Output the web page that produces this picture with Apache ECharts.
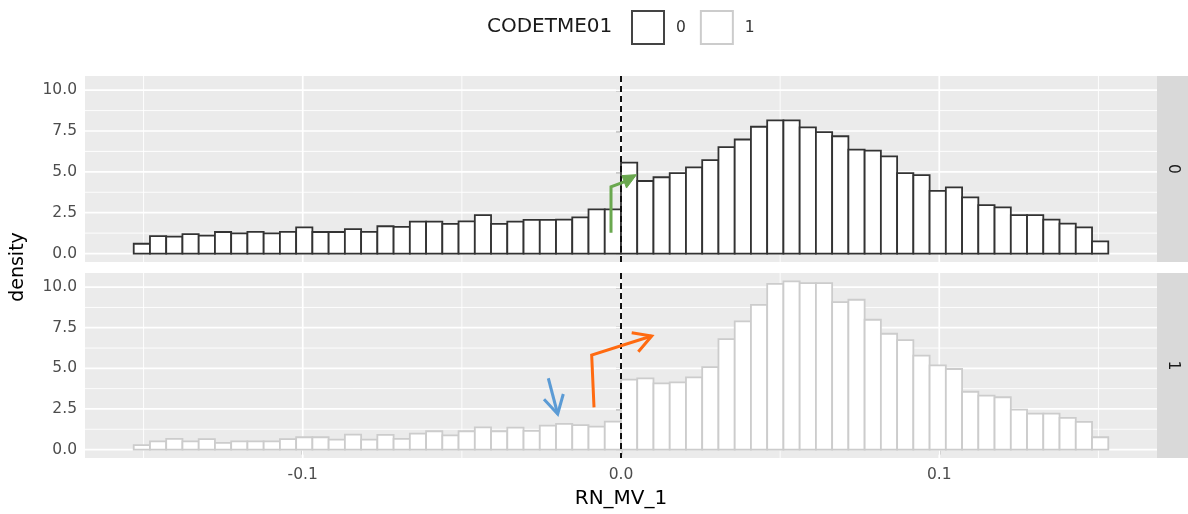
<!DOCTYPE html>
<html><head><meta charset="utf-8">
<script src="https://cdn.jsdelivr.net/npm/echarts@6/dist/echarts.min.js"></script>
<style>html,body{margin:0;padding:0;background:#fff}#c{width:1188px;height:514px}</style>
</head><body><div id="c"></div>
<script>
// ---- data ----
const groups = ['0', '1'];
const binStart = -0.1531;
const binWidth = 0.1531 / 30;
const density0 = [0.60,1.07,1.03,1.19,1.10,1.32,1.23,1.33,1.23,1.33,
                  1.60,1.32,1.32,1.50,1.33,1.67,1.63,1.95,1.95,1.82,
                  1.97,2.35,1.81,1.95,2.06,2.06,2.08,2.22,2.70,2.70,
                  5.56,4.44,4.67,4.92,5.27,5.72,6.52,6.98,7.76,8.15,
                  8.15,7.72,7.43,7.18,6.36,6.30,5.95,4.92,4.80,3.83,
                  4.05,3.44,2.96,2.82,2.35,2.35,2.08,1.83,1.60,0.74];
const density1 = [0.27,0.51,0.66,0.51,0.64,0.41,0.51,0.51,0.51,0.64,
                  0.76,0.76,0.61,0.92,0.61,0.90,0.66,0.98,1.13,0.88,
                  1.13,1.37,1.13,1.35,1.15,1.47,1.58,1.50,1.41,1.72,
                  4.30,4.38,4.08,4.14,4.45,5.08,6.80,7.89,8.91,10.20,
                  10.35,10.24,10.24,9.08,9.22,7.99,7.13,6.74,5.78,5.18,
                  4.96,3.56,3.32,3.22,2.46,2.21,2.21,1.95,1.70,0.76];
const xTicks = [-0.1, 0, 0.1];
const xMinor = [-0.15, -0.05, 0.05, 0.15];
const yTicks = [0, 2.5, 5, 7.5, 10];
const yMinor = [1.25, 3.75, 6.25, 8.75];
const cutoff = 0;
// hand-drawn annotation arrows (data coordinates)
const greenArrow = {panel: 0, line: [[-0.00314,1.27],[-0.00314,4.09],[0.0012,4.40]], head: [[0.00487,4.83],[0.00031,4.77],[0.00173,4.01]], fill: true};
const orangeArrow = {panel: 1, line: [[-0.00848,2.60],[-0.00921,5.82],[0.00965,6.99]], head: [[0.00336,7.19],[0.00965,6.99],[0.00544,6.02]], fill: false};
const blueArrow = {panel: 1, line: [[-0.02284,4.39],[-0.01989,2.19]], head: [[-0.02419,3.10],[-0.01989,2.19],[-0.01813,3.42]], fill: false};
const arrowColors = ['#6AA84F', '#FF6A10', '#5B9BD5'];

// ---- layout / style ----
const FONT = 'DejaVu Sans';
const X_MIN = -0.16841, X_MAX = 0.16841;
const Y_MIN = -0.5175, Y_MAX = 10.8675;
const barStroke = ['#333333', '#CCCCCC'];

const chart = echarts.init(document.getElementById('c'), null, {renderer: 'canvas'});

function binned(vals) {
  return vals.map((v, i) => [binStart + i * binWidth, binStart + (i + 1) * binWidth, v]);
}
const gridData = [];
xMinor.forEach(v => gridData.push([v, 0, 0]));
yMinor.forEach(v => gridData.push([v, 1, 0]));
xTicks.forEach(v => gridData.push([v, 0, 1]));
yTicks.forEach(v => gridData.push([v, 1, 1]));

function gridSeries(idx) {
  return {
    type: 'custom', xAxisIndex: idx, yAxisIndex: idx, z: 1, silent: true,
    data: gridData,
    encode: {x: 0},
    renderItem(params, api) {
      const cs = params.coordSys;
      const v = api.value(0), dir = api.value(1), major = api.value(2);
      let shape;
      if (dir === 0) {
        const px = api.coord([v, 0])[0];
        shape = {x1: px, y1: cs.y, x2: px, y2: cs.y + cs.height};
      } else {
        const py = api.coord([0, v])[1];
        shape = {x1: cs.x, y1: py, x2: cs.x + cs.width, y2: py};
      }
      return {type: 'line', shape, style: {stroke: '#FFFFFF', lineWidth: major ? 1.7 : 0.9}};
    }
  };
}
function barSeries(idx, vals) {
  return {
    type: 'custom', name: groups[idx], xAxisIndex: idx, yAxisIndex: idx, z: 3,
    data: binned(vals),
    encode: {x: [0, 1], y: 2},
    itemStyle: {color: '#FFFFFF', borderColor: barStroke[idx]},
    renderItem(params, api) {
      const p0 = api.coord([api.value(0), api.value(2)]);
      const p1 = api.coord([api.value(1), 0]);
      return {type: 'rect', shape: {x: p0[0], y: p0[1], width: p1[0] - p0[0], height: p1[1] - p0[1]},
              style: {fill: '#FFFFFF', stroke: barStroke[idx], lineWidth: 1.8}};
    }
  };
}
function cutoffSeries(idx) {
  return {
    type: 'custom', xAxisIndex: idx, yAxisIndex: idx, z: 4, silent: true,
    data: [[cutoff, 0]],
    renderItem(params, api) {
      const cs = params.coordSys;
      const px = api.coord([api.value(0), 0])[0];
      return {type: 'line', shape: {x1: px, y1: cs.y, x2: px, y2: cs.y + cs.height},
              style: {stroke: '#111111', lineWidth: 2, lineDash: [6, 4]}};
    }
  };
}
function arrowSeries(arrow, color) {
  return {
    type: 'custom', xAxisIndex: arrow.panel, yAxisIndex: arrow.panel, z: 6, silent: true,
    data: [[arrow.line[0][0], arrow.line[0][1]]],
    renderItem(params, api) {
      const pts = arrow.line.map(p => api.coord(p));
      const hd = arrow.head.map(p => api.coord(p));
      const children = [{type: 'polyline', shape: {points: pts},
        style: {stroke: color, lineWidth: 3, fill: null, lineJoin: 'miter'}}];
      if (arrow.fill) {
        children.push({type: 'polygon', shape: {points: hd}, style: {fill: color, stroke: color, lineWidth: 1}});
      } else {
        children.push({type: 'polyline', shape: {points: hd}, style: {stroke: color, lineWidth: 3, fill: null}});
      }
      return {type: 'group', children};
    }
  };
}

const axisLabelStyle = {fontFamily: FONT, fontSize: 15.5, color: '#4D4D4D'};
function xAxis(idx) {
  const bottom = idx === 1;
  return {
    type: 'value', gridIndex: idx, min: X_MIN, max: X_MAX,
    axisLine: {show: false},
    axisTick: {show: bottom, customValues: xTicks, length: 5, lineStyle: {color: '#333333', width: 1.3}},
    axisLabel: Object.assign({show: bottom, customValues: xTicks, margin: 9,
      formatter: v => Number(v).toFixed(1)}, axisLabelStyle),
    splitLine: {show: false},
    name: bottom ? 'RN_MV_1' : '', nameLocation: 'middle', nameGap: 31,
    nameTextStyle: {fontFamily: FONT, fontSize: 20, color: '#000000'}
  };
}
function yAxis(idx) {
  return {
    type: 'value', gridIndex: idx, min: Y_MIN, max: Y_MAX,
    axisLine: {show: false},
    axisTick: {show: true, customValues: yTicks, length: 5, lineStyle: {color: '#333333', width: 1.3}},
    axisLabel: Object.assign({customValues: yTicks, margin: 8,
      formatter: v => Number(v).toFixed(1)}, axisLabelStyle),
    splitLine: {show: false}
  };
}

const panels = [{top: 76, height: 186}, {top: 273, height: 185}];
const stripGraphics = [];
panels.forEach((p, i) => {
  stripGraphics.push({type: 'rect', left: 1157, top: p.top, shape: {width: 31, height: p.height},
                      style: {fill: '#D9D9D9'}, silent: true});
  stripGraphics.push({type: 'text', x: 1173, y: p.top + p.height / 2, rotation: -Math.PI / 2,
                      style: {text: groups[i], x: 0, y: 0, textAlign: 'center', textVerticalAlign: 'middle',
                              font: '15.5px "DejaVu Sans"', fill: '#1A1A1A'}, silent: true});
});

chart.setOption({
  animation: false,
  backgroundColor: '#FFFFFF',
  grid: panels.map(p => ({left: 85, top: p.top, width: 1072, height: p.height, show: true,
                          backgroundColor: '#EBEBEB', borderWidth: 0})),
  xAxis: [xAxis(0), xAxis(1)],
  yAxis: [yAxis(0), yAxis(1)],
  legend: {
    left: 631, top: 10, padding: 0, itemWidth: 32, itemHeight: 33, itemGap: 14, selectedMode: false,
    textStyle: {fontFamily: FONT, fontSize: 15.5, color: '#333333', padding: [0, 0, 0, 7]},
    data: [
      {name: groups[0], icon: 'rect', itemStyle: {color: '#FFFFFF', borderColor: '#444444', borderWidth: 2}},
      {name: groups[1], icon: 'rect', itemStyle: {color: '#FFFFFF', borderColor: '#CCCCCC', borderWidth: 2}}
    ]
  },
  graphic: stripGraphics.concat([
    {type: 'text', x: 487, y: 27, style: {text: 'CODETME01', textAlign: 'left', textVerticalAlign: 'middle',
      font: '20px "DejaVu Sans"', fill: '#1A1A1A'}, silent: true},
    {type: 'text', x: 18, y: 267, rotation: Math.PI / 2, style: {text: 'density', x: 0, y: 0,
      textAlign: 'center', textVerticalAlign: 'middle', font: '19px "DejaVu Sans"', fill: '#000000'}, silent: true}
  ]),
  series: [
    gridSeries(0), gridSeries(1),
    barSeries(0, density0), barSeries(1, density1),
    cutoffSeries(0), cutoffSeries(1),
    arrowSeries(greenArrow, arrowColors[0]),
    arrowSeries(orangeArrow, arrowColors[1]),
    arrowSeries(blueArrow, arrowColors[2])
  ]
});
</script>
</body></html>
